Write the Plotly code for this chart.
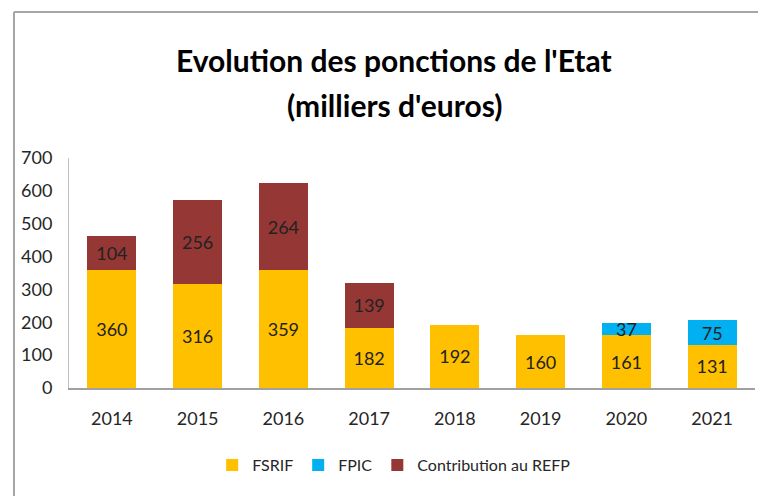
import plotly.graph_objects as go

years = ["2014", "2015", "2016", "2017", "2018", "2019", "2020", "2021"]
fsrif = [360, 316, 359, 182, 192, 160, 161, 131]
fpic = [None, None, None, None, None, None, 37, 75]
refp = [104, 256, 264, 139, None, None, None, None]

title_lines = ["Evolution des ponctions de l'Etat", "(milliers d'euros)"]

FONT = "Lato, Open Sans, sans-serif"


def labels(vals):
    return [str(v) if v else "" for v in vals]


fig = go.Figure()
for name, vals, color in [
    ("FSRIF", fsrif, "#FFC000"),
    ("FPIC", fpic, "#00B0F0"),
    ("Contribution au REFP", refp, "#953735"),
]:
    fig.add_trace(
        go.Bar(
            name=name,
            x=years,
            y=vals,
            marker_color=color,
            marker_line_width=0,
            text=labels(vals),
            textposition="inside",
            insidetextanchor="middle",
            constraintext="none",
            textangle=0,
            textfont=dict(size=18, color="#222222", family=FONT),
        )
    )

# outer frame of the original picture: left and top edges only,
# the right side runs off the image
frame = dict(color="#a6a6a6", width=2)
fig.add_shape(type="line", xref="paper", yref="paper",
              x0=-0.0802, x1=-0.0802, y0=-0.5, y1=1.6348, line=frame)
fig.add_shape(type="line", xref="paper", yref="paper",
              x0=-0.0802, x1=1.1, y0=1.6348, y1=1.6348, line=frame)

# two-line title placed as annotations so the line spacing can match
for text, ypos in zip(title_lines, [1.426, 1.230]):
    fig.add_annotation(
        text=text, xref="paper", yref="paper", x=0.474, y=ypos,
        xanchor="center", yanchor="middle", showarrow=False,
        font=dict(size=30, family=FONT, color="#000000", weight="bold"),
    )

fig.update_layout(
    barmode="stack",
    bargap=0.43,
    width=758,
    height=496,
    margin=dict(l=69, r=3, t=158, b=108),
    plot_bgcolor="white",
    paper_bgcolor="white",
    font=dict(family=FONT, size=18, color="#262626"),
    xaxis=dict(
        showline=True, linecolor="#a0a0a0", linewidth=1.5,
        ticks="", tickfont=dict(size=18), showgrid=False,
        ticklabelstandoff=14,
    ),
    yaxis=dict(
        range=[0, 700], dtick=100, showline=True, linecolor="#c0c0c0",
        linewidth=1, showgrid=False, ticks="", tickfont=dict(size=18),
        ticklabelstandoff=12,
    ),
    legend=dict(
        orientation="h", x=0.474, xanchor="center", y=-0.335, yanchor="middle",
        font=dict(size=16), itemwidth=30, traceorder="normal",
    ),
    showlegend=True,
)

fig.write_html(
    "out.html",
    config={"displayModeBar": False},
    post_script="document.body.style.margin='0';",
)
